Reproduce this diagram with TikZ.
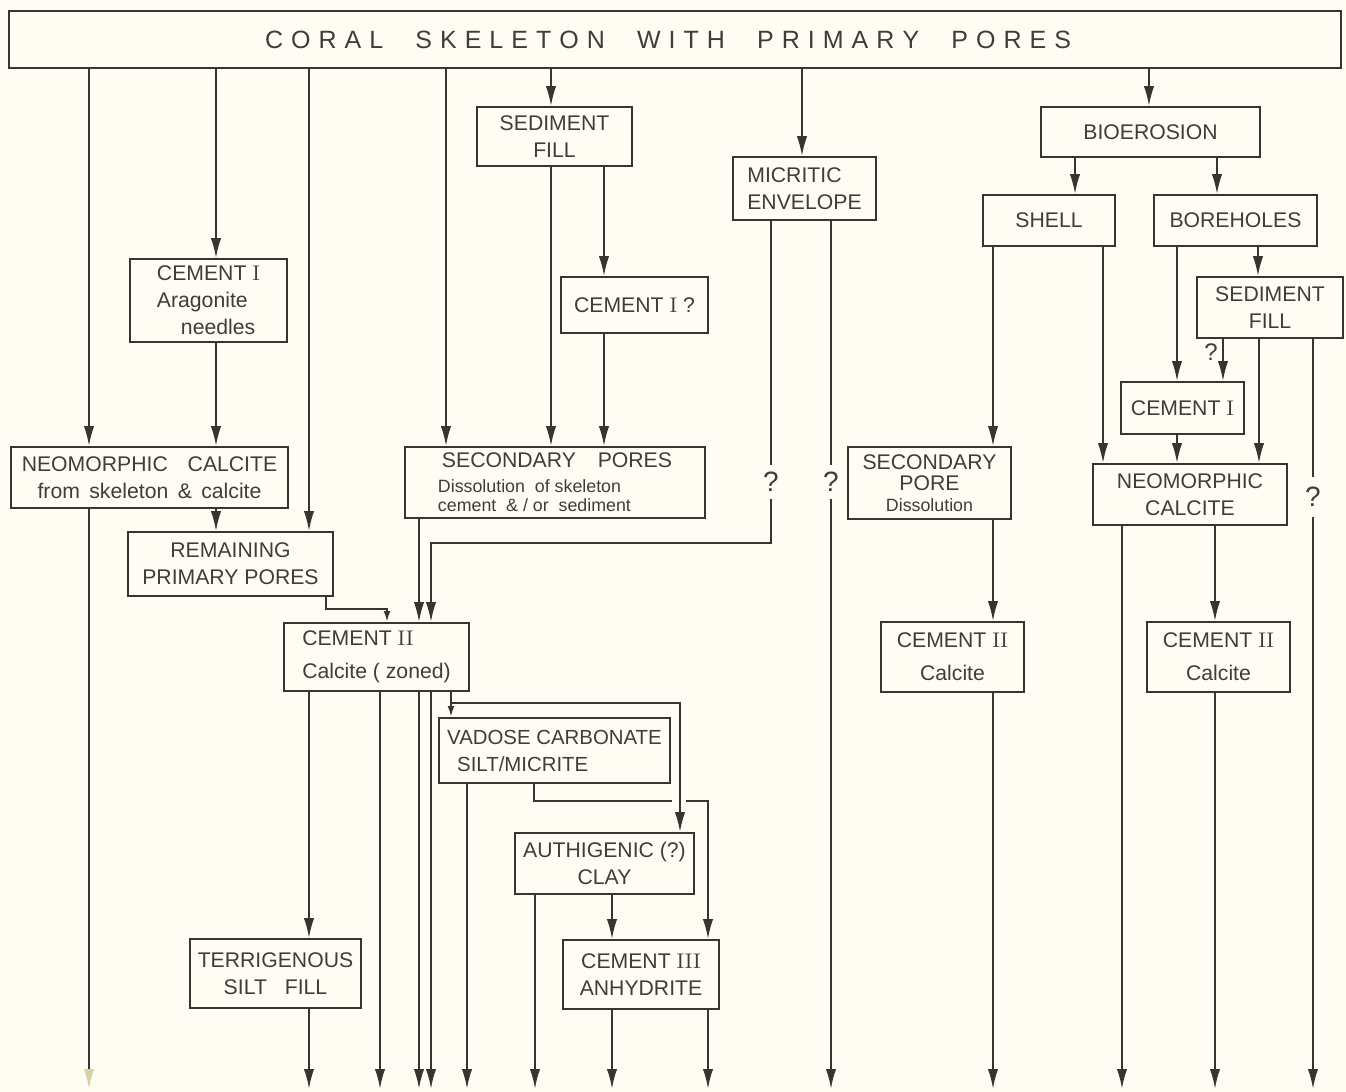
\documentclass[tikz,border=0pt]{standalone}
\usepackage{fontspec}
\newfontfamily\lab{Liberation Sans}
\usetikzlibrary{arrows.meta}
\definecolor{bg}{HTML}{FEFDF3}
\definecolor{ink}{HTML}{3A3431}
\definecolor{txt}{HTML}{403C38}
\definecolor{faint}{HTML}{D9CFA6}
\newcommand\RN[1]{{\rmfamily #1}}
\newcommand\bx[7][]{\node[box,#1,minimum width={(#4-#2)*0.5pt},minimum height={(#5-#3)*0.5pt}] (#6) at ({(#2+#4)/2},{(#3+#5)/2}) {#7};}
\newcommand\smtxt{\fontsize{8.9}{10.2}\selectfont}
\begin{document}
\begin{tikzpicture}[x=0.5pt,y=-0.5pt,
  box/.style={draw=ink, line width=0.9pt, inner sep=0pt, align=center, text=txt,
    font=\lab\fontsize{10.6}{13.5}\selectfont},
  ln/.style={draw=ink, line width=1pt},
  arr/.style={ln, -{Latex[length=10pt,width=5.2pt]}},
  sarr/.style={ln, -{Latex[length=5.5pt,width=3.4pt]}},
  qm/.style={text=txt, font=\lab\fontsize{14}{14}\selectfont, inner sep=0pt, minimum height=17pt},
]
\fill[bg] (0,0) rectangle (1346,1092);
\useasboundingbox (0,0) rectangle (1346,1092);
\coordinate (bot) at (0,1089);

% ---------- boxes ----------
\bx[font=\lab\fontsize{12.5}{14}\selectfont]{9}{11}{1341}{68}{title}{\makebox[403pt]{C\hfill O\hfill R\hfill A\hfill L\hfill\hfill\hfill\hfill S\hfill K\hfill E\hfill L\hfill E\hfill T\hfill O\hfill N\hfill\hfill\hfill\hfill W\hfill I\hfill T\hfill H\hfill\hfill\hfill\hfill P\hfill R\hfill I\hfill M\hfill A\hfill R\hfill Y\hfill\hfill\hfill\hfill P\hfill O\hfill R\hfill E\hfill S}\hspace*{7pt}}
\bx{477}{107}{632}{166}{sedA}{SEDIMENT\\FILL}
\bx[align=left]{733}{157}{876}{220}{mic}{MICRITIC\\ENVELOPE}
\bx{1041}{107}{1260}{157}{bio}{BIOEROSION}
\bx{983}{195}{1115}{246}{shell}{SHELL}
\bx{1154}{195}{1317}{246}{bore}{BOREHOLES}
\bx[align=left]{130}{259}{287}{342}{cemA}{CEMENT \RN{I}\\Aragonite\\\hspace*{12pt}needles}
\bx{561}{277}{708}{333}{cemQ}{CEMENT \RN{I} ?}
\bx{1197}{277}{1343}{338}{sedB}{SEDIMENT\\FILL}
\bx{1121}{382}{1244}{434}{cemB}{CEMENT \RN{I}}
\bx{11}{447}{288}{508}{neoA}{NEOMORPHIC\hspace{7pt} CALCITE\\from \,skeleton \,\& \,calcite}
\bx[align=left]{405}{447}{705}{518}{secA}{\hspace*{2pt}SECONDARY\hspace{8pt} PORES\\[-1pt]\smtxt Dissolution \ of skeleton\\[-4pt]\smtxt cement \ \& / or \ sediment}
\bx{848}{447}{1011}{519}{secB}{SECONDARY\\[-3pt]PORE\\[-3pt]\smtxt Dissolution}
\bx{1093}{464}{1287}{525}{neoB}{NEOMORPHIC\\CALCITE}
\bx{128}{532}{333}{596}{rem}{REMAINING\\PRIMARY PORES}
\bx[align=left]{284}{623}{469}{691}{cemC}{CEMENT \RN{II}\\[3pt]Calcite ( zoned)}
\bx{881}{622}{1024}{692}{cemD}{CEMENT \RN{II}\\[3pt]Calcite}
\bx{1147}{622}{1290}{692}{cemE}{CEMENT \RN{II}\\[3pt]Calcite}
\bx[align=left, font=\lab\fontsize{10.2}{13.5}\selectfont]{439}{718}{670}{783}{vad}{VADOSE CARBONATE\\\hspace*{5pt}SILT/MICRITE}
\bx{515}{833}{694}{894}{auth}{AUTHIGENIC (?)\\CLAY}
\bx{190}{939}{361}{1008}{terr}{TERRIGENOUS\\SILT\hspace{6pt} FILL}
\bx{563}{940}{719}{1009}{cemF}{CEMENT \RN{III}\\ANHYDRITE}

% ---------- question marks ----------
\node[qm] (q1) at (771,482) {?};
\node[qm] (q2) at (831,482) {?};
\node[qm, minimum height=20pt] (q3) at (1313,497) {?};
\node[qm, font=\lab\fontsize{12}{12}\selectfont] (q4) at (1211,352) {?};

\coordinate (k1) at (431,543);
\coordinate (g1) at (672,801);
\coordinate (g2) at (686,801);

% ---------- from the title ----------
\draw[arr] (title.south -| 89,0) -- (neoA.north -| 89,0);
\draw[arr] (title.south -| 216,0) -- (cemA.north -| 216,0);
\draw[arr] (title.south -| 309,0) -- (rem.north -| 309,0);
\draw[arr] (title.south -| 446,0) -- (secA.north -| 446,0);
\draw[arr] (title.south -| 551,0) -- (sedA.north -| 551,0);
\draw[arr] (title.south -| 802,0) -- (mic.north -| 802,0);
\draw[arr] (title.south -| 1149,0) -- (bio.north -| 1149,0);

% ---------- left part ----------
\draw[arr] (sedA.south -| 551,0) -- (secA.north -| 551,0);
\draw[arr] (sedA.south -| 604,0) -- (cemQ.north -| 604,0);
\draw[arr] (cemQ.south -| 604,0) -- (secA.north -| 604,0);
\draw[arr] (cemA.south -| 216,0) -- (neoA.north -| 216,0);
\draw[arr] (neoA.south -| 216,0) -- (rem.north -| 216,0);
\draw[ln, -{Latex[length=10pt,width=5.2pt,color=faint]}] (neoA.south -| 89,0) -- (bot -| 89,0);
\draw[sarr] (rem.south -| 326,0) -- ++(0,12) -| (cemC.north -| 387,0);
\draw[arr] (secA.south -| 419,0) -- (cemC.north -| 419,0);
\draw[ln] (mic.south -| q1) -- (q1.north);
\draw[arr] (q1.south) |- (k1) -- (cemC.north -| k1);
\draw[ln] (mic.south -| q2) -- (q2.north);
\draw[arr] (q2.south) -- (bot -| q2);

\draw[arr] (cemC.south -| 309,0) -- (terr.north -| 309,0);
\draw[arr] (cemC.south -| 380,0) -- (bot -| 380,0);
\draw[arr] (cemC.south -| 419,0) -- (bot -| 419,0);
\draw[arr] (cemC.south -| 431,0) -- (bot -| 431,0);
\draw[sarr] (cemC.south -| 451,0) -- (vad.north -| 451,0);
\draw[arr] (cemC.south -| 451,0) -- ++(0,11) -| (auth.north -| 680,0);
\draw[arr] (vad.south -| 467,0) -- (bot -| 467,0);
\draw[ln] (vad.south -| 534,0) |- (g1);
\draw[arr] (g2) -| (cemF.north -| 708,0);
\draw[arr] (auth.south -| 535,0) -- (bot -| 535,0);
\draw[arr] (auth.south -| 612,0) -- (cemF.north -| 612,0);
\draw[arr] (cemF.south -| 612,0) -- (bot -| 612,0);
\draw[arr] (cemF.south -| 708,0) -- (bot -| 708,0);
\draw[arr] (terr.south -| 309,0) -- (bot -| 309,0);

% ---------- right part ----------
\draw[arr] (bio.south -| 1075,0) -- (shell.north -| 1075,0);
\draw[arr] (bio.south -| 1217,0) -- (bore.north -| 1217,0);
\draw[arr] (shell.south -| 993,0) -- (secB.north -| 993,0);
\draw[arr] (shell.south -| 1103,0) -- (neoB.north -| 1103,0);
\draw[arr] (bore.south -| 1177,0) -- (cemB.north -| 1177,0);
\draw[arr] (bore.south -| 1258,0) -- (sedB.north -| 1258,0);
\draw[arr] (sedB.south -| 1223,0) -- (cemB.north -| 1223,0);
\draw[arr] (sedB.south -| 1259,0) -- (neoB.north -| 1259,0);
\draw[ln] (sedB.south -| q3) -- (q3.north);
\draw[arr] (q3.south) -- (bot -| q3);
\draw[arr] (cemB.south -| 1177,0) -- (neoB.north -| 1177,0);
\draw[arr] (neoB.south -| 1122,0) -- (bot -| 1122,0);
\draw[arr] (neoB.south -| 1215,0) -- (cemE.north -| 1215,0);
\draw[arr] (cemE.south -| 1215,0) -- (bot -| 1215,0);
\draw[arr] (secB.south -| 993,0) -- (cemD.north -| 993,0);
\draw[arr] (cemD.south -| 993,0) -- (bot -| 993,0);
\end{tikzpicture}
\end{document}
